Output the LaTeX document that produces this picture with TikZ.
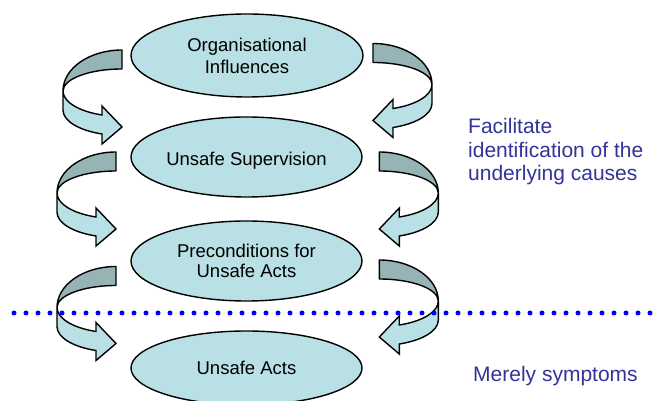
\documentclass[tikz,border=0pt]{standalone}
\usepackage{fontspec}
\setmainfont{Liberation Sans}
\usetikzlibrary{shapes.geometric}
\definecolor{lightteal}{RGB}{185,224,228}
\definecolor{darkteal}{RGB}{150,179,182}
\definecolor{textblue}{RGB}{51,51,153}
\definecolor{dotblue}{RGB}{0,0,255}
\tikzset{
  ell/.style={ellipse, draw=black, line width=1.4pt, fill=lightteal, inner sep=0pt,
    align=center, font=\fontsize{18.5}{22}\selectfont},
  backface/.style={draw=black, line width=1.4pt, fill=darkteal, line join=round},
  frontface/.style={draw=black, line width=1.4pt, fill=lightteal, line join=miter},
  note/.style={text=textblue, inner sep=0pt, align=left, font=\fontsize{21}{23.3}\selectfont},
  dotline/.style={dotblue, line width=5pt, line cap=round, dash pattern=on 0pt off 12pt},
  curvarr/.pic={
    \path[backface] (0,41) arc[start angle=90,end angle=180,x radius=59pt,y radius=41pt]
      arc[start angle=180,end angle=90,x radius=59pt,y radius=22pt] -- cycle;
    \path[frontface] (-59,0) arc[start angle=180,end angle=250.2,x radius=59pt,y radius=25.5pt]
      -- (-20,-15) -- (0,-36) -- (-20,-53) -- (-20,-43)
      arc[start angle=250.2,end angle=180,x radius=59pt,y radius=25.5pt] -- cycle;
  }
}
\begin{document}
\begin{tikzpicture}[x=1pt,y=1pt]
\useasboundingbox (0,0) rectangle (656,401);
\clip (0,0) rectangle (656,401);
\fill[white] (0,0) rectangle (656,401);
% ellipses
\node[ell, minimum width=232pt, minimum height=83pt] (e1) at (247,345.5) {Organisational\\Influences};
\node[ell, minimum width=231pt, minimum height=80pt, text height=17pt, text depth=0pt] (e2) at (246.5,244) {Unsafe Supervision};
\node[ell, minimum width=231pt, minimum height=80pt, font=\fontsize{18.5}{20.5}\selectfont] (e3) at (246.5,140) {Preconditions for\\Unsafe Acts};
\node[ell, minimum width=231pt, minimum height=74pt] (e4) at (246.5,33) {Unsafe Acts};
% curved arrows
\pic at (122,310) {curvarr};
\pic at (116,208) {curvarr};
\pic at (116,93.5) {curvarr};
\pic[xscale=-1] at (373,316.5) {curvarr};
\pic[xscale=-1] at (379.3,208) {curvarr};
\pic[xscale=-1] at (379.3,100) {curvarr};
% dotted separator
\coordinate (dl) at (14,88);
\coordinate (dr) at (662,88);
\draw[dotline] (dl) -- (dr);
% notes
\node[note, anchor=north west] (n1) at (468,282.5) {Facilitate\\identification of the\\underlying causes};
\node[note, anchor=base west] (n2) at (473,19.5) {Merely symptoms};
\end{tikzpicture}
\end{document}
